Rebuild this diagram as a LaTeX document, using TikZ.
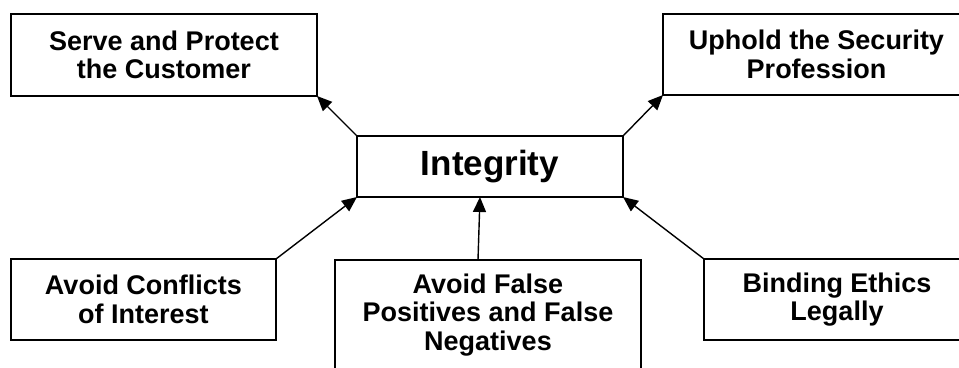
\documentclass[tikz,border=0pt]{standalone}
\usepackage{fontspec}
\setmainfont{Liberation Sans}
\usetikzlibrary{arrows.meta}
\tikzset{
  box/.style={draw=black, line width=1.5pt, inner sep=0pt, outer sep=0pt, align=center,
    font=\fontsize{27}{28.5}\selectfont\bfseries},
  bigbox/.style={box, font=\fontsize{35}{38}\selectfont\bfseries},
  conn/.style={line width=1.4pt, -{Triangle[length=15pt,width=13pt]}}
}
\begin{document}
\begin{tikzpicture}[x=1pt,y=-1pt]
\useasboundingbox (0,0) rectangle (959,367);
\clip (0,0) rectangle (959,367);
\node[bigbox, minimum width=266pt, minimum height=61pt] (int) at (490,166.5) {Integrity};
\node[box, minimum width=306pt, minimum height=82pt] (serve) at (164,55) {Serve and Protect\\the Customer};
\node[box, minimum width=307pt, minimum height=81pt] (uphold) at (816.5,54.5) {Uphold the Security\\Profession};
\node[box, minimum width=265pt, minimum height=81pt] (conf) at (143.5,299.5) {Avoid Conflicts\\of Interest};
\node[box, minimum width=306pt, minimum height=110pt] (fp) at (488,315) {Avoid False\\Positives and False\\Negatives};
\node[box, minimum width=266pt, minimum height=81pt] (bind) at (837,299.5) {Binding Ethics\\Legally};
\draw[conn] (int.north west) -- (serve.south east);
\draw[conn] (int.north east) -- (uphold.south west);
\draw[conn] (conf.north east) -- (int.south west);
\draw[conn] (bind.north west) -- (int.south east);
\draw[conn] ([xshift=-10pt]fp.north) -- ([xshift=-10pt]int.south);
\end{tikzpicture}
\end{document}
